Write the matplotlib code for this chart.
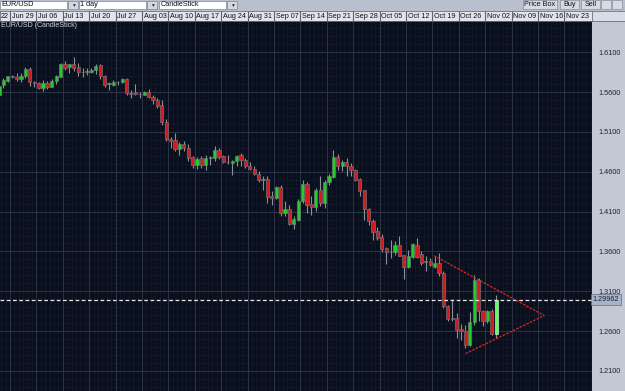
"""
EUR/USD 日线蜡烛图（交易平台截图风格）复刻。
"""
import matplotlib

matplotlib.use("Agg")
import matplotlib.pyplot as plt
from matplotlib.patches import Rectangle
import numpy as np

# ---- 数据 ----
symbol = "EUR/USD"
period = "1 day"
chart_type = "CandleStick"
week_labels = ["Jun 22", "Jun 29", "Jul 06", "Jul 13", "Jul 20", "Jul 27", "Aug 03",
               "Aug 10", "Aug 17", "Aug 24", "Aug 31", "Sep 07", "Sep 14", "Sep 21",
               "Sep 28", "Oct 05", "Oct 12", "Oct 19", "Oct 26", "Nov 02", "Nov 09",
               "Nov 16", "Nov 23"]
price_ticks = [1.21, 1.26, 1.31, 1.36, 1.41, 1.46, 1.51, 1.56, 1.61]
last_price = 1.29962

opens = [
    1.5568, 1.5685, 1.5744, 1.5799, 1.5795, 1.5761, 1.5799, 1.5887, 1.5726, 1.5719,
    1.5648, 1.5710, 1.5669, 1.5736, 1.5795, 1.5954, 1.5912, 1.5954, 1.5912, 1.5854,
    1.5856, 1.5849, 1.5874, 1.5937, 1.5804, 1.5707, 1.5694, 1.5726, 1.5728, 1.5766,
    1.5585, 1.5597, 1.5575, 1.5568, 1.5597, 1.5544, 1.5506, 1.5439, 1.5230, 1.5017,
    1.4995, 1.4884, 1.4945, 1.4901, 1.4786, 1.4689, 1.4768, 1.4685, 1.4775, 1.4774,
    1.4878, 1.4802, 1.4717, 1.4708, 1.4731, 1.4809, 1.4752, 1.4677, 1.4639, 1.4577,
    1.4492, 1.4510, 1.4292, 1.4266, 1.4410, 1.4083, 1.4137, 1.3949, 1.3999, 1.4229,
    1.4451, 1.4196, 1.4158, 1.4367, 1.4208, 1.4467, 1.4535, 1.4786, 1.4677, 1.4718,
    1.4668, 1.4618, 1.4510, 1.4367, 1.4133, 1.3986, 1.3852, 1.3779, 1.3643, 1.3591,
    1.3593, 1.3685, 1.3550, 1.3400, 1.3534, 1.3685, 1.3568, 1.3471, 1.3475, 1.3400,
    1.3455, 1.3330, 1.2919, 1.2762, 1.2764, 1.2626, 1.2604, 1.2420, 1.2714, 1.3245,
    1.2856, 1.2722, 1.2856, 1.2563,
]
highs = [
    1.5707, 1.5782, 1.5807, 1.5814, 1.5845, 1.5841, 1.5912, 1.5917, 1.5736, 1.5728,
    1.5757, 1.5744, 1.5766, 1.5811, 1.5962, 1.5987, 1.5954, 1.6046, 1.5962, 1.5904,
    1.5896, 1.5904, 1.5954, 1.5958, 1.5811, 1.5723, 1.5757, 1.5744, 1.5778, 1.5778,
    1.5628, 1.5707, 1.5597, 1.5610, 1.5641, 1.5560, 1.5527, 1.5506, 1.5264, 1.5038,
    1.5091, 1.4975, 1.4983, 1.4954, 1.4798, 1.4790, 1.4794, 1.4815, 1.4794, 1.4920,
    1.4899, 1.4815, 1.4815, 1.4752, 1.4815, 1.4836, 1.4774, 1.4718, 1.4668, 1.4606,
    1.4543, 1.4543, 1.4355, 1.4426, 1.4439, 1.4229, 1.4187, 1.4049, 1.4259, 1.4492,
    1.4467, 1.4292, 1.4397, 1.4551, 1.4501, 1.4577, 1.4878, 1.4828, 1.4752, 1.4774,
    1.4711, 1.4636, 1.4523, 1.4376, 1.4146, 1.4008, 1.3907, 1.3823, 1.3651, 1.3748,
    1.3726, 1.3789, 1.3559, 1.3622, 1.3706, 1.3769, 1.3601, 1.3538, 1.3518, 1.3538,
    1.3581, 1.3350, 1.2931, 1.3006, 1.2827, 1.2689, 1.2680, 1.2840, 1.3299, 1.3266,
    1.2868, 1.2868, 1.2881, 1.3057,
]
lows = [
    1.5544, 1.5656, 1.5732, 1.5782, 1.5736, 1.5728, 1.5778, 1.5673, 1.5661, 1.5641,
    1.5611, 1.5641, 1.5661, 1.5703, 1.5786, 1.5883, 1.5841, 1.5862, 1.5799, 1.5786,
    1.5811, 1.5837, 1.5832, 1.5761, 1.5669, 1.5628, 1.5673, 1.5685, 1.5710, 1.5560,
    1.5527, 1.5560, 1.5527, 1.5560, 1.5522, 1.5452, 1.5405, 1.5192, 1.4991, 1.4903,
    1.4857, 1.4815, 1.4857, 1.4731, 1.4648, 1.4639, 1.4648, 1.4623, 1.4689, 1.4731,
    1.4765, 1.4711, 1.4702, 1.4564, 1.4668, 1.4677, 1.4648, 1.4618, 1.4556, 1.4467,
    1.4376, 1.4208, 1.4187, 1.4259, 1.4048, 1.4040, 1.3936, 1.3882, 1.3977, 1.4208,
    1.4083, 1.4062, 1.4103, 1.4166, 1.4146, 1.4439, 1.4523, 1.4627, 1.4606, 1.4551,
    1.4551, 1.4480, 1.4292, 1.3999, 1.3936, 1.3748, 1.3739, 1.3597, 1.3442, 1.3513,
    1.3559, 1.3538, 1.3258, 1.3392, 1.3518, 1.3518, 1.3434, 1.3350, 1.3412, 1.3392,
    1.3287, 1.2890, 1.2722, 1.2730, 1.2513, 1.2492, 1.2391, 1.2410, 1.2680, 1.2722,
    1.2659, 1.2705, 1.2548, 1.2513,
]
closes = [
    1.5682, 1.5748, 1.5799, 1.5792, 1.5766, 1.5807, 1.5887, 1.5728, 1.5719, 1.5648,
    1.5715, 1.5669, 1.5741, 1.5804, 1.5954, 1.5904, 1.5949, 1.5904, 1.5854, 1.5848,
    1.5862, 1.5883, 1.5933, 1.5804, 1.5694, 1.5713, 1.5723, 1.5732, 1.5761, 1.5590,
    1.5579, 1.5572, 1.5582, 1.5602, 1.5535, 1.5497, 1.5430, 1.5224, 1.5010, 1.4991,
    1.4887, 1.4945, 1.4893, 1.4777, 1.4687, 1.4765, 1.4685, 1.4777, 1.4781, 1.4878,
    1.4787, 1.4718, 1.4723, 1.4740, 1.4802, 1.4752, 1.4677, 1.4636, 1.4573, 1.4501,
    1.4514, 1.4284, 1.4266, 1.4410, 1.4083, 1.4137, 1.3949, 1.4008, 1.4237, 1.4451,
    1.4187, 1.4158, 1.4367, 1.4208, 1.4467, 1.4543, 1.4786, 1.4677, 1.4718, 1.4668,
    1.4618, 1.4501, 1.4355, 1.4133, 1.3977, 1.3844, 1.3769, 1.3635, 1.3593, 1.3597,
    1.3685, 1.3546, 1.3400, 1.3538, 1.3694, 1.3530, 1.3455, 1.3477, 1.3425, 1.3459,
    1.3330, 1.2910, 1.2755, 1.2749, 1.2617, 1.2596, 1.2420, 1.2714, 1.3245, 1.2847,
    1.2722, 1.2856, 1.2563, 1.29962,
]

# 三角形整理（手工画线），x 为 K 线序号
triangle_x = [98.9, 123.9, 105.75]
triangle_y = [1.3546, 1.2796, 1.2311]

# ---- 样式 ----
BG = "#0a0f1d"
PANEL = "#c3c8d4"
TOOLBAR = "#b8c0cd"
RED = "#d41a1a"
GREEN = "#26cc26"

W, H = 625, 391
CHART_RIGHT = 592
CHART_TOP = 20.5


def draw_toolbar(fig):
    tb = fig.add_axes([0, 1 - 10.5 / H, 1, 10.5 / H])
    tb.set_xlim(0, W)
    tb.set_ylim(10.5, 0)
    tb.set_facecolor(TOOLBAR)
    tb.axis("off")
    tb.add_patch(Rectangle((0, 0), W, 10.5, color=TOOLBAR, zorder=0))
    for x0, txt in [(0, symbol), (79, period), (159, chart_type)]:
        tb.add_patch(Rectangle((x0, 0.6), 67, 8.6, fc="white", ec="#7d8494", lw=0.5))
        tb.text(x0 + 1.5, 5, txt, fontsize=5.2, va="center", color="#111")
        tb.add_patch(Rectangle((x0 + 68, 0.6), 10, 8.6, fc="#d4d8e0", ec="#7d8494", lw=0.5))
        tb.text(x0 + 73, 5.2, "▼", fontsize=3.5, ha="center", va="center", color="#333")
    for x0, w, txt in [(523, 34, "Price Box"), (560, 19, "Buy"), (581, 19, "Sell"),
                       (601, 10, ""), (612, 10, "")]:
        tb.add_patch(Rectangle((x0, 0.4), w, 8.8, fc="#d6dae2", ec="#8a90a0", lw=0.5))
        tb.text(x0 + w / 2, 5, txt, fontsize=5.2, ha="center", va="center", color="#111")


def draw_date_row(fig, boundaries, xlim):
    dr = fig.add_axes([0, 1 - CHART_TOP / H, CHART_RIGHT / W, 10 / H])
    dr.set_xlim(*xlim)
    dr.set_ylim(0, 1)
    dr.set_facecolor("#e1e4ea")
    for s in dr.spines.values():
        s.set_color("#6a707c")
        s.set_linewidth(0.6)
    dr.set_xticks([])
    dr.set_yticks([])
    for b, lab in zip(boundaries, week_labels):
        dr.axvline(b, color="#5d636e", lw=0.8)
        if b < xlim[0]:
            # 左边被截掉的那一周只露出日期数字
            dr.text(xlim[0] + 0.05, 0.45, lab.split()[-1], fontsize=5.2, va="center",
                    ha="left", color="#111")
        else:
            dr.text(b + 0.35, 0.45, lab, fontsize=5.2, va="center", ha="left", color="#111")
    end = fig.add_axes([CHART_RIGHT / W, 1 - CHART_TOP / H, 1 - CHART_RIGHT / W, 10 / H])
    end.set_facecolor("#d8dce4")
    end.set_xticks([])
    end.set_yticks([])
    for s in end.spines.values():
        s.set_color("#6a707c")
        s.set_linewidth(0.6)


def main():
    plt.rcParams["font.family"] = ["Liberation Sans", "DejaVu Sans"]
    fig = plt.figure(figsize=(W / 100, H / 100), dpi=100)
    fig.patch.set_facecolor(PANEL)

    n = len(opens)
    idx = np.arange(n)
    o = np.array(opens)
    c = np.array(closes)
    hi = np.array(highs)
    lo = np.array(lows)

    xlim = (0.23, 134.77)
    ylim = (1.1849, 1.6498)
    boundaries = [-3.5 + 6 * k for k in range(len(week_labels))]

    ax = fig.add_axes([0, 0, CHART_RIGHT / W, (H - CHART_TOP) / H])
    ax.set_facecolor(BG)
    ax.set_xlim(*xlim)
    ax.set_ylim(*ylim)

    # 网格：细网格 + 周/价位主网格
    for x in np.arange(-0.5, 136, 1.0):
        ax.axvline(x, color="#141b2b", lw=0.5, zorder=0)
    for y in np.arange(1.19, 1.65, 0.01):
        ax.axhline(y, color="#141b2b", lw=0.5, zorder=0)
    for b in boundaries:
        ax.axvline(b, color="#29324400", lw=0)
        ax.axvline(b, color="#2a3345", lw=0.8, zorder=1)
    for p in price_ticks:
        ax.axhline(p, color="#2a3345", lw=0.8, zorder=1)

    # K 线
    up = c >= o
    colors = np.where(up, GREEN, RED).tolist()
    colors[-1] = "#5cff5c"
    bottoms = np.minimum(o, c)
    heights = np.maximum(np.abs(c - o), 0.0004)
    ax.vlines(idx, lo, hi, color="#8c919b", lw=0.8, zorder=3)
    bars = ax.bar(idx, heights, bottom=bottoms, width=0.72, color=colors,
                  edgecolor="#7a7e88", linewidth=0.4, zorder=4)
    bars[-1].set_edgecolor("#e8ffe8")

    # 当前价虚线
    ax.axhline(last_price, color="#e6e6e6", lw=0.9, ls=(0, (3, 2)), zorder=5)

    # 三角形
    ax.plot(triangle_x, triangle_y, color="#e02424", lw=0.9, ls=(0, (2, 1)), zorder=6)

    ax.text(0.002, 0.997, f"{symbol} ({chart_type})", transform=ax.transAxes,
            fontsize=5, va="top", ha="left", color="#d0d5e0")

    # 右侧价格轴
    ax.yaxis.tick_right()
    ax.set_yticks(price_ticks)
    ax.set_yticklabels([f"{p:.4f}" for p in price_ticks])
    ax.tick_params(axis="y", length=0, pad=4.5, labelsize=5.2, labelcolor="#1c2232")
    ax.set_xticks([])
    for s in ax.spines.values():
        s.set_visible(False)
    ax.text(1.0015, last_price, f"{last_price:.5f}", transform=ax.get_yaxis_transform(),
            fontsize=5.2, va="center", ha="left", color="#1c2232",
            bbox=dict(boxstyle="square,pad=0.25", fc="#a9b2c6", ec="#5f6a84", lw=0.5))

    draw_date_row(fig, boundaries, xlim)
    draw_toolbar(fig)

    fig.savefig("out.png", dpi=100, facecolor=fig.get_facecolor())
    plt.close(fig)


if __name__ == "__main__":
    main()
